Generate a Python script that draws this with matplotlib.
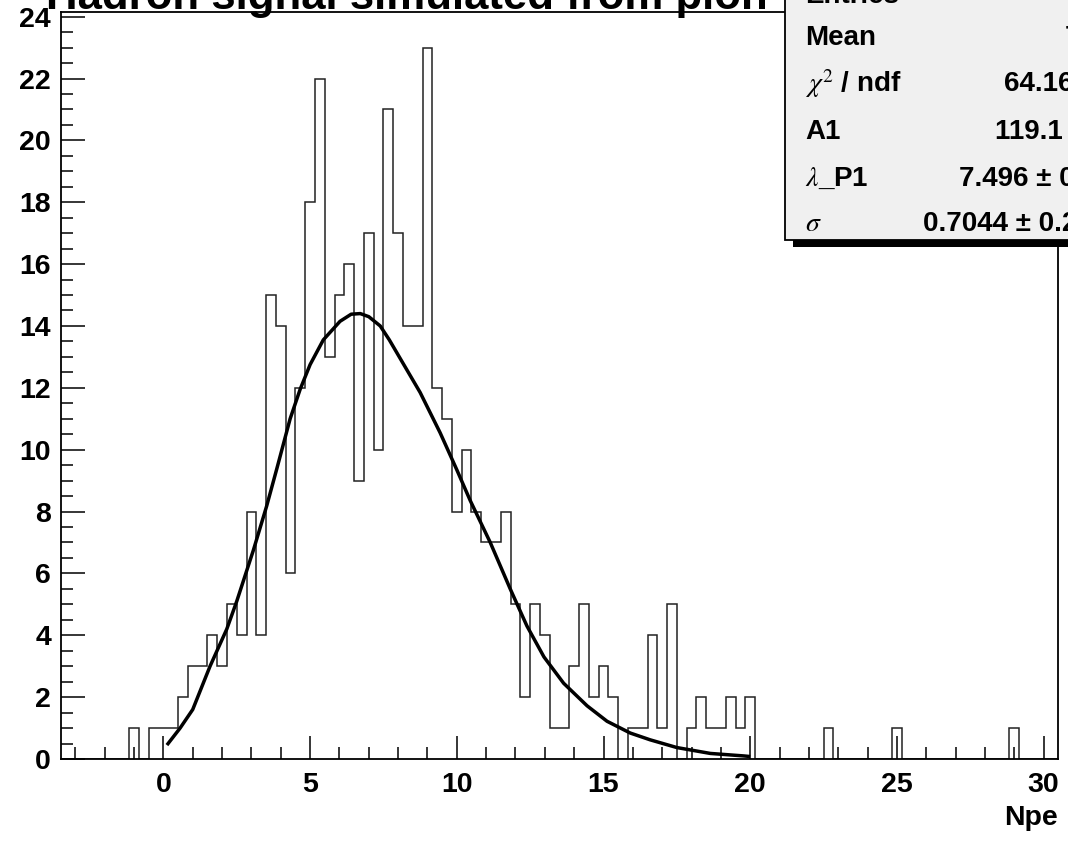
import numpy as np
import matplotlib.pyplot as plt
from matplotlib.patches import Rectangle

plt.rcParams['font.family'] = ['Liberation Sans', 'DejaVu Sans']
plt.rcParams['mathtext.fontset'] = 'stix'

W, H = 1068, 843

# histogram: 102 bins from -3.5 to 30.5
x_lo, x_hi, nbins = -3.5, 30.5, 102
counts = [0, 0, 0, 0, 0, 0, 0, 1, 0, 1,
          1, 1, 2, 3, 3, 4, 3, 5, 4, 8,
          4, 15, 14, 6, 12, 18, 22, 13, 15, 16,
          9, 17, 10, 21, 17, 14, 14, 23, 12, 11,
          8, 10, 8, 7, 7, 8, 5, 2, 5, 4,
          1, 1, 3, 5, 2, 3, 2, 0, 1, 1,
          4, 1, 5, 0, 1, 2, 1, 1, 2, 1,
          2, 0, 0, 0, 0, 0, 0, 0, 1, 0,
          0, 0, 0, 0, 0, 1, 0, 0, 0, 0,
          0, 0, 0, 0, 0, 0, 0, 1, 0, 0,
          0, 0]

# fit curve
fit_x = [0.12, 0.57, 1.0, 1.59, 2.16, 2.5, 3.07, 3.52, 3.87, 4.32, 4.66, 5.0, 5.45,
         6.02, 6.4, 6.71, 7.0, 7.39, 7.7, 8.07, 8.75, 9.43, 10.0, 10.46, 11.14, 11.82,
         12.39, 12.97, 13.64, 14.44, 15.12, 15.91, 16.59, 17.5, 18.64, 19.77, 20.0]
fit_y = [0.45, 1.0, 1.6, 3.0, 4.2, 5.1, 6.76, 8.18, 9.4, 11.0, 11.95, 12.75, 13.55,
         14.15, 14.38, 14.4, 14.3, 14.0, 13.55, 12.95, 11.85, 10.55, 9.35, 8.35, 7.0, 5.5,
         4.3, 3.3, 2.45, 1.72, 1.22, 0.84, 0.62, 0.37, 0.18, 0.1, 0.08]

stat_labels = ['Entries', 'Mean', r'$\chi^{2}$ / ndf', 'A1', r'$\lambda$_P1', r'$\sigma$']
stat_values = ['274', '7.447', '64.16 / 57', '119.1 ± 7.2', '7.496 ± 0.193', '0.7044 ± 0.264']

fig = plt.figure(figsize=(W / 100, H / 100), dpi=100)
ax = fig.add_axes([60.7 / W, 1 - 759 / H, (1058.3 - 60.7) / W, (759 - 12) / H])

edges = np.linspace(x_lo, x_hi, nbins + 1)
ax.stairs(counts, edges, color='#222222', lw=1.1)
ax.plot(fit_x, fit_y, color='black', lw=2.5, solid_capstyle='butt',
        solid_joinstyle='round')

ax.set_xlim(x_lo, x_hi)
ax.set_ylim(0, 24.15)
ax.set_xticks(range(0, 31, 5))
ax.set_xticks(range(-3, 31), minor=True)
ax.set_yticks(range(0, 25, 2))
ax.set_yticks(np.arange(0, 24.2, 0.5), minor=True)
for s in ax.spines.values():
    s.set_linewidth(1.3)
ax.tick_params(axis='x', which='major', direction='in', length=16.5, width=1.1, pad=9,
               labelsize=20.5)
ax.tick_params(axis='x', which='minor', direction='in', length=8.3, width=1.1)
ax.tick_params(axis='y', which='major', direction='in', length=17, width=1.1, pad=7,
               labelsize=20.5)
ax.tick_params(axis='y', which='minor', direction='in', length=8.6, width=1.1)
for lab in ax.get_xticklabels() + ax.get_yticklabels():
    lab.set_fontweight('bold')

fig.text(1058 / W, 1 - 818 / H, 'Npe', ha='right', va='center', fontsize=20.5,
         fontweight='bold')

# title, mostly cut off by the top edge
fig.text(46 / W, 1 - 9 / H, 'Hadron signal simulated from pion', ha='left',
         va='baseline', fontsize=31.5, fontweight='bold')

# stats box
fig.patches.append(Rectangle((793 / W, 1 - 247 / H), 400 / W, 300 / H,
                             transform=fig.transFigure, facecolor='black',
                             edgecolor='none', zorder=5))
fig.patches.append(Rectangle((785 / W, 1 - 240 / H), 400 / W, 300 / H,
                             transform=fig.transFigure, facecolor='#f0f0f0',
                             edgecolor='black', lw=1.3, zorder=6))
rows_y = [-4, 38, 84, 132, 179, 224]
val_x = [1070, 1065, 1004, 995, 959, 923]
for lab, val, yy, vx in zip(stat_labels, stat_values, rows_y, val_x):
    fig.text(805 / W, 1 - yy / H, lab, ha='left', va='center', fontsize=20,
             fontweight='bold', zorder=7)
    fig.text(vx / W, 1 - yy / H, val, ha='left', va='center', fontsize=20,
             fontweight='bold', zorder=7)

fig.savefig('out.png', dpi=100)
